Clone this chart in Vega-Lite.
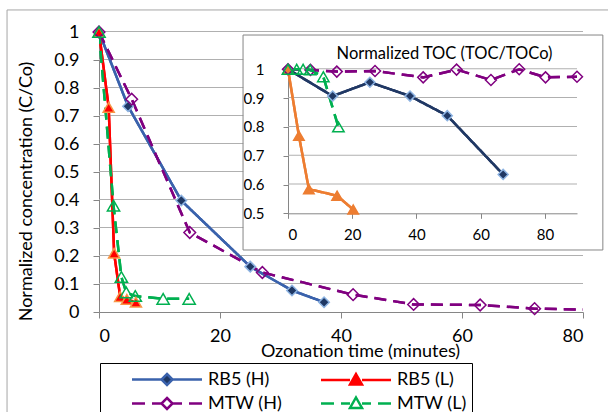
{
  "$schema": "https://vega.github.io/schema/vega-lite/v6.json",
  "autosize": {"type": "none"},
  "padding": {"left": 99, "top": 32, "right": 25, "bottom": 100},
  "width": 484,
  "height": 280,
  "background": "white",
  "config": {
    "view": {"stroke": null},
    "font": "Lato",
    "axis": {
      "labelFont": "Lato", "titleFont": "Lato", "labelColor": "black", "titleColor": "black",
      "titleFontWeight": "normal", "domainColor": "#868686", "tickColor": "#868686",
      "domainWidth": 1, "tickWidth": 1
    },
    "rect": {"fill": "#B0B0B0", "strokeWidth": 0}
  },
  "datasets": {
    "conc": [
      {"series": "RB5 (H)", "t": 0, "v": 1},
      {"series": "RB5 (H)", "t": 4.8, "v": 0.735},
      {"series": "RB5 (H)", "t": 13.6, "v": 0.398},
      {"series": "RB5 (H)", "t": 25, "v": 0.162},
      {"series": "RB5 (H)", "t": 31.9, "v": 0.077},
      {"series": "RB5 (H)", "t": 37.2, "v": 0.035},
      {"series": "RB5 (L)", "t": 0, "v": 1},
      {"series": "RB5 (L)", "t": 1.6, "v": 0.731},
      {"series": "RB5 (L)", "t": 2.5, "v": 0.21},
      {"series": "RB5 (L)", "t": 3.5, "v": 0.055},
      {"series": "RB5 (L)", "t": 4.6, "v": 0.045},
      {"series": "RB5 (L)", "t": 6.1, "v": 0.035},
      {"series": "MTW (H)", "t": 0, "v": 1},
      {"series": "MTW (H)", "t": 5.4, "v": 0.76},
      {"series": "MTW (H)", "t": 15, "v": 0.284},
      {"series": "MTW (H)", "t": 27, "v": 0.141},
      {"series": "MTW (H)", "t": 42, "v": 0.062},
      {"series": "MTW (H)", "t": 52, "v": 0.027},
      {"series": "MTW (H)", "t": 63, "v": 0.025},
      {"series": "MTW (H)", "t": 72, "v": 0.012},
      {"series": "MTW (H)", "t": 90, "v": 0.005},
      {"series": "MTW (L)", "t": 0, "v": 1},
      {"series": "MTW (L)", "t": 2.4, "v": 0.38},
      {"series": "MTW (L)", "t": 3.7, "v": 0.125},
      {"series": "MTW (L)", "t": 4.5, "v": 0.07},
      {"series": "MTW (L)", "t": 6, "v": 0.057},
      {"series": "MTW (L)", "t": 10.6, "v": 0.047},
      {"series": "MTW (L)", "t": 14.9, "v": 0.047}
    ],
    "toc": [
      {"series": "RB5 (H)", "t": 0, "v": 1},
      {"series": "RB5 (H)", "t": 13.9, "v": 0.907},
      {"series": "RB5 (H)", "t": 25.5, "v": 0.955},
      {"series": "RB5 (H)", "t": 38, "v": 0.907},
      {"series": "RB5 (H)", "t": 49.6, "v": 0.839},
      {"series": "RB5 (H)", "t": 67, "v": 0.635},
      {"series": "RB5 (L)", "t": 0, "v": 1},
      {"series": "RB5 (L)", "t": 3.4, "v": 0.769},
      {"series": "RB5 (L)", "t": 6.5, "v": 0.584},
      {"series": "RB5 (L)", "t": 15.3, "v": 0.561},
      {"series": "RB5 (L)", "t": 20.3, "v": 0.513},
      {"series": "MTW (H)", "t": 0, "v": 1},
      {"series": "MTW (H)", "t": 7, "v": 0.998},
      {"series": "MTW (H)", "t": 15.2, "v": 0.992},
      {"series": "MTW (H)", "t": 27.1, "v": 0.994},
      {"series": "MTW (H)", "t": 42.1, "v": 0.972},
      {"series": "MTW (H)", "t": 52.5, "v": 0.999},
      {"series": "MTW (H)", "t": 63.2, "v": 0.963},
      {"series": "MTW (H)", "t": 72, "v": 1.0},
      {"series": "MTW (H)", "t": 80.2, "v": 0.972},
      {"series": "MTW (H)", "t": 90, "v": 0.974},
      {"series": "MTW (L)", "t": 0, "v": 1},
      {"series": "MTW (L)", "t": 2.7, "v": 1},
      {"series": "MTW (L)", "t": 4.7, "v": 1},
      {"series": "MTW (L)", "t": 6.9, "v": 0.998},
      {"series": "MTW (L)", "t": 11, "v": 0.974},
      {"series": "MTW (L)", "t": 15.7, "v": 0.8}
    ]
  },
  "resolve": {"scale": {"x": "independent", "y": "independent", "color": "independent", "fill": "independent", "stroke": "independent", "shape": "independent", "strokeDash": "independent", "size": "independent"}},
  "layer": [
    {
      "data": {"name": "conc"},
      "mark": {"type": "line", "strokeWidth": 2.5, "clip": true},
      "encoding": {
        "x": {"field": "t", "type": "quantitative",
          "scale": {"domain": [0, 80], "nice": false},
          "axis": {"orient": "bottom", "values": [0, 20, 40, 60, 80], "title": "Ozonation time (minutes)", "labelFontSize": 18, "titleFontSize": 18,
            "tickSize": 6, "labelPadding": 9, "grid": false, "titleX": 261, "titleY": 39, "titleBaseline": "middle", "titleAlign": "center"}},
        "y": {"field": "v", "type": "quantitative",
          "scale": {"domain": [0, 1], "nice": false},
          "axis": {"orient": "left", "values": [0, 0.1, 0.2, 0.3, 0.4, 0.5, 0.6, 0.7, 0.8, 0.9, 1], "format": "~g", "labelFontSize": 18,
            "labelOverlap": false, "tickSize": 6, "labelPadding": 14, "grid": false,
            "title": "Normalized concentration (C/Co)", "titleFontSize": 18, "titleX": -73, "titleY": 159,
            "titleAngle": 270, "titleAlign": "center", "titleBaseline": "middle"}},
        "color": {"field": "series", "type": "nominal",
          "scale": {"domain": ["RB5 (H)", "RB5 (L)", "MTW (H)", "MTW (L)"], "range": ["#3A62AC", "#FF0000", "#800080", "#00B050"]}, "legend": null},
        "strokeDash": {"field": "series", "type": "nominal",
          "scale": {"domain": ["RB5 (H)", "RB5 (L)", "MTW (H)", "MTW (L)"], "range": [[1, 0], [1, 0], [12, 7], [12, 7]]}, "legend": null}
      }
    },
    {
      "data": {"name": "toc"},
      "mark": {"type": "line", "strokeWidth": 2.5},
      "encoding": {
        "x": {"field": "t", "type": "quantitative",
          "scale": {"domain": [0, 90], "range": [189, 478], "nice": false},
          "axis": {"orient": "bottom", "offset": -98.7, "values": [0, 20, 40, 60, 80], "grid": false, "title": null,
            "labelFontSize": 15, "tickSize": 5, "labelPadding": 9, "labelOverlap": false}},
        "y": {"field": "v", "type": "quantitative",
          "scale": {"domain": [0.5, 1], "range": [181.3, 37.3], "nice": false, "zero": false},
          "axis": {"orient": "left", "offset": -189, "values": [0.5, 0.6, 0.7, 0.8, 0.9, 1], "format": "~g", "grid": false,
            "labelFontSize": 15, "tickSize": 5, "labelPadding": 19, "labelOverlap": false,
            "title": "Normalized TOC (TOC/TOCo)", "titleFontSize": 16.5, "titleAngle": 0, "titleX": 156, "titleY": 21,
            "titleAlign": "center", "titleBaseline": "middle"}},
        "color": {"field": "series", "type": "nominal",
          "scale": {"domain": ["RB5 (H)", "RB5 (L)", "MTW (H)", "MTW (L)"], "range": ["#203864", "#ED7D31", "#800080", "#00B050"]}, "legend": null},
        "strokeDash": {"field": "series", "type": "nominal",
          "scale": {"domain": ["RB5 (H)", "RB5 (L)", "MTW (H)", "MTW (L)"], "range": [[1, 0], [1, 0], [12, 7], [12, 7]]}, "legend": null}
      }
    },
    {"data": {"values": [{}]}, "mark": "rect", "encoding": {
      "x": {"datum": 0, "type": "quantitative", "scale": {"domain": [0, 80], "nice": false}, "axis": null}, "x2": {"datum": 80},
      "y": {"datum": 1, "type": "quantitative", "scale": {"domain": [0, 1], "nice": false}, "axis": null}, "y2": {"datum": 1.0036}}},
    {"data": {"values": [{}]}, "mark": "rect", "encoding": {
      "x": {"datum": 0, "type": "quantitative", "scale": {"domain": [0, 80], "nice": false}, "axis": null}, "x2": {"datum": 80},
      "y": {"datum": 0.2, "type": "quantitative", "scale": {"domain": [0, 1], "nice": false}, "axis": null}, "y2": {"datum": 0.2036}}},
    {"data": {"values": [{}]}, "mark": "rect", "encoding": {
      "x": {"datum": 0, "type": "quantitative", "scale": {"domain": [0, 80], "nice": false}, "axis": null}, "x2": {"datum": 80},
      "y": {"datum": 0.1, "type": "quantitative", "scale": {"domain": [0, 1], "nice": false}, "axis": null}, "y2": {"datum": 0.1036}}},
    {"data": {"values": [{}]}, "mark": "rect", "encoding": {
      "x": {"datum": 0, "type": "quantitative", "scale": {"domain": [0, 80], "nice": false}, "axis": null}, "x2": {"datum": 23.85},
      "y": {"datum": 0.3, "type": "quantitative", "scale": {"domain": [0, 1], "nice": false}, "axis": null}, "y2": {"datum": 0.3036}}},
    {"data": {"values": [{}]}, "mark": "rect", "encoding": {
      "x": {"datum": 0, "type": "quantitative", "scale": {"domain": [0, 80], "nice": false}, "axis": null}, "x2": {"datum": 23.85},
      "y": {"datum": 0.4, "type": "quantitative", "scale": {"domain": [0, 1], "nice": false}, "axis": null}, "y2": {"datum": 0.4036}}},
    {"data": {"values": [{}]}, "mark": "rect", "encoding": {
      "x": {"datum": 0, "type": "quantitative", "scale": {"domain": [0, 80], "nice": false}, "axis": null}, "x2": {"datum": 23.85},
      "y": {"datum": 0.5, "type": "quantitative", "scale": {"domain": [0, 1], "nice": false}, "axis": null}, "y2": {"datum": 0.5036}}},
    {"data": {"values": [{}]}, "mark": "rect", "encoding": {
      "x": {"datum": 0, "type": "quantitative", "scale": {"domain": [0, 80], "nice": false}, "axis": null}, "x2": {"datum": 23.85},
      "y": {"datum": 0.6, "type": "quantitative", "scale": {"domain": [0, 1], "nice": false}, "axis": null}, "y2": {"datum": 0.6036}}},
    {"data": {"values": [{}]}, "mark": "rect", "encoding": {
      "x": {"datum": 0, "type": "quantitative", "scale": {"domain": [0, 80], "nice": false}, "axis": null}, "x2": {"datum": 23.85},
      "y": {"datum": 0.7, "type": "quantitative", "scale": {"domain": [0, 1], "nice": false}, "axis": null}, "y2": {"datum": 0.7036}}},
    {"data": {"values": [{}]}, "mark": "rect", "encoding": {
      "x": {"datum": 0, "type": "quantitative", "scale": {"domain": [0, 80], "nice": false}, "axis": null}, "x2": {"datum": 23.85},
      "y": {"datum": 0.8, "type": "quantitative", "scale": {"domain": [0, 1], "nice": false}, "axis": null}, "y2": {"datum": 0.8036}}},
    {"data": {"values": [{}]}, "mark": "rect", "encoding": {
      "x": {"datum": 0, "type": "quantitative", "scale": {"domain": [0, 80], "nice": false}, "axis": null}, "x2": {"datum": 23.85},
      "y": {"datum": 0.9, "type": "quantitative", "scale": {"domain": [0, 1], "nice": false}, "axis": null}, "y2": {"datum": 0.9036}}},
    {"data": {"values": [{}]}, "mark": "rect", "encoding": {
      "x": {"datum": 0, "type": "quantitative", "scale": {"domain": [0, 90], "range": [189, 478], "nice": false}, "axis": null}, "x2": {"datum": 90},
      "y": {"datum": 0.6, "type": "quantitative", "scale": {"domain": [0.5, 1], "range": [181.3, 37.3], "nice": false, "zero": false}, "axis": null}, "y2": {"datum": 0.6035}}},
    {"data": {"values": [{}]}, "mark": "rect", "encoding": {
      "x": {"datum": 0, "type": "quantitative", "scale": {"domain": [0, 90], "range": [189, 478], "nice": false}, "axis": null}, "x2": {"datum": 90},
      "y": {"datum": 0.7, "type": "quantitative", "scale": {"domain": [0.5, 1], "range": [181.3, 37.3], "nice": false, "zero": false}, "axis": null}, "y2": {"datum": 0.7035}}},
    {"data": {"values": [{}]}, "mark": "rect", "encoding": {
      "x": {"datum": 0, "type": "quantitative", "scale": {"domain": [0, 90], "range": [189, 478], "nice": false}, "axis": null}, "x2": {"datum": 90},
      "y": {"datum": 0.8, "type": "quantitative", "scale": {"domain": [0.5, 1], "range": [181.3, 37.3], "nice": false, "zero": false}, "axis": null}, "y2": {"datum": 0.8035}}},
    {"data": {"values": [{}]}, "mark": "rect", "encoding": {
      "x": {"datum": 0, "type": "quantitative", "scale": {"domain": [0, 90], "range": [189, 478], "nice": false}, "axis": null}, "x2": {"datum": 90},
      "y": {"datum": 0.9, "type": "quantitative", "scale": {"domain": [0.5, 1], "range": [181.3, 37.3], "nice": false, "zero": false}, "axis": null}, "y2": {"datum": 0.9035}}},
    {"data": {"values": [{}]}, "mark": "rect", "encoding": {
      "x": {"datum": 0, "type": "quantitative", "scale": {"domain": [0, 90], "range": [189, 478], "nice": false}, "axis": null}, "x2": {"datum": 90},
      "y": {"datum": 1, "type": "quantitative", "scale": {"domain": [0.5, 1], "range": [181.3, 37.3], "nice": false, "zero": false}, "axis": null}, "y2": {"datum": 1.0035}}},
    {
      "data": {"name": "conc"},
      "mark": {"type": "line", "strokeWidth": 2.5, "clip": true},
      "encoding": {
        "x": {"field": "t", "type": "quantitative", "scale": {"domain": [0, 80], "nice": false}, "axis": null},
        "y": {"field": "v", "type": "quantitative", "scale": {"domain": [0, 1], "nice": false}, "axis": null},
        "color": {"field": "series", "type": "nominal",
          "scale": {"domain": ["RB5 (H)", "RB5 (L)", "MTW (H)", "MTW (L)"], "range": ["#3A62AC", "#FF0000", "#800080", "#00B050"]}, "legend": null},
        "strokeDash": {"field": "series", "type": "nominal",
          "scale": {"domain": ["RB5 (H)", "RB5 (L)", "MTW (H)", "MTW (L)"], "range": [[1, 0], [1, 0], [12, 7], [12, 7]]}, "legend": null}
      }
    },
    {
      "data": {"name": "toc"},
      "mark": {"type": "line", "strokeWidth": 2.5},
      "encoding": {
        "x": {"field": "t", "type": "quantitative", "scale": {"domain": [0, 90], "range": [189, 478], "nice": false}, "axis": null},
        "y": {"field": "v", "type": "quantitative", "scale": {"domain": [0.5, 1], "range": [181.3, 37.3], "nice": false, "zero": false}, "axis": null},
        "color": {"field": "series", "type": "nominal",
          "scale": {"domain": ["RB5 (H)", "RB5 (L)", "MTW (H)", "MTW (L)"], "range": ["#203864", "#ED7D31", "#800080", "#00B050"]}, "legend": null},
        "strokeDash": {"field": "series", "type": "nominal",
          "scale": {"domain": ["RB5 (H)", "RB5 (L)", "MTW (H)", "MTW (L)"], "range": [[1, 0], [1, 0], [12, 7], [12, 7]]}, "legend": null}
      }
    },
    {
      "data": {"name": "conc"},
      "transform": [{"filter": "datum.t <= 80"}],
      "mark": {"type": "point", "filled": true, "opacity": 1, "strokeWidth": 1.5},
      "encoding": {
        "x": {"field": "t", "type": "quantitative", "scale": {"domain": [0, 80], "nice": false}, "axis": null},
        "y": {"field": "v", "type": "quantitative", "scale": {"domain": [0, 1], "nice": false}, "axis": null},
        "shape": {"field": "series", "type": "nominal",
          "scale": {"domain": ["RB5 (H)", "RB5 (L)", "MTW (H)", "MTW (L)"], "range": ["diamond", "triangle-up", "diamond", "triangle-up"]}, "legend": null},
        "fill": {"field": "series", "type": "nominal",
          "scale": {"domain": ["RB5 (H)", "RB5 (L)", "MTW (H)", "MTW (L)"], "range": ["#1F3864", "#FF0000", "transparent", "transparent"]}, "legend": null},
        "stroke": {"field": "series", "type": "nominal",
          "scale": {"domain": ["RB5 (H)", "RB5 (L)", "MTW (H)", "MTW (L)"], "range": ["#8DB3E2", "#F79646", "#800080", "#00B050"]}, "legend": null},
        "size": {"field": "series", "type": "ordinal",
          "scale": {"domain": ["RB5 (H)", "RB5 (L)", "MTW (H)", "MTW (L)"], "range": [110, 150, 150, 190]}, "legend": null}
      }
    },
    {
      "data": {"name": "toc"},
      "mark": {"type": "point", "filled": true, "opacity": 1, "strokeWidth": 1.5},
      "encoding": {
        "x": {"field": "t", "type": "quantitative", "scale": {"domain": [0, 90], "range": [189, 478], "nice": false}, "axis": null},
        "y": {"field": "v", "type": "quantitative", "scale": {"domain": [0.5, 1], "range": [181.3, 37.3], "nice": false, "zero": false}, "axis": null},
        "shape": {"field": "series", "type": "nominal",
          "scale": {"domain": ["RB5 (H)", "RB5 (L)", "MTW (H)", "MTW (L)"], "range": ["diamond", "triangle-up", "diamond", "triangle-up"]}, "legend": null},
        "fill": {"field": "series", "type": "nominal",
          "scale": {"domain": ["RB5 (H)", "RB5 (L)", "MTW (H)", "MTW (L)"], "range": ["#203864", "#ED7D31", "transparent", "transparent"]}, "legend": null},
        "stroke": {"field": "series", "type": "nominal",
          "scale": {"domain": ["RB5 (H)", "RB5 (L)", "MTW (H)", "MTW (L)"], "range": ["#8DB3E2", "#ED7D31", "#800080", "#00B050"]}, "legend": null},
        "size": {"field": "series", "type": "ordinal",
          "scale": {"domain": ["RB5 (H)", "RB5 (L)", "MTW (H)", "MTW (L)"], "range": [100, 130, 121, 160]}, "legend": null}
      }
    },
    {
      "data": {"values": [{}]},
      "mark": {"type": "rect", "fill": "transparent", "stroke": "#A6A6A6", "strokeWidth": 1},
      "encoding": {
        "x": {"datum": -15.2, "type": "quantitative", "scale": {"domain": [0, 80], "nice": false}, "axis": null},
        "x2": {"datum": 90},
        "y": {"datum": 1.0787, "type": "quantitative", "scale": {"domain": [0, 1], "nice": false}, "axis": null},
        "y2": {"datum": -0.5}
      }
    },
    {
      "data": {"values": [{}]},
      "mark": {"type": "rect", "fill": "transparent", "stroke": "#868686", "strokeWidth": 1},
      "encoding": {
        "x": {"datum": -14.0, "type": "quantitative", "scale": {"domain": [0, 90], "range": [189, 478], "nice": false}, "axis": null},
        "x2": {"datum": 98.05},
        "y": {"datum": 0.3726, "type": "quantitative", "scale": {"domain": [0.5, 1], "range": [181.3, 37.3], "nice": false, "zero": false}, "axis": null},
        "y2": {"datum": 1.119}
      }
    },
    {
      "data": {"name": "conc"},
      "transform": [{"filter": "false"}],
      "mark": {"type": "point", "filled": true, "opacity": 1, "strokeWidth": 2.5},
      "encoding": {
        "shape": {"field": "series", "type": "nominal",
          "scale": {"domain": ["RB5 (H)", "RB5 (L)", "MTW (H)", "MTW (L)"],
            "range": [
              "M-3.5,0H-0.55M0.55,0H3.5M0,-0.55L0.55,0L0,0.55L-0.55,0Z",
              "M-3.5,0H-0.6M0.6,0H3.5M0,-0.6L0.6,0.45L-0.6,0.45Z",
              "M-3.5,0H-2.2M-1.5,0H-0.55M0.55,0H1.5M2.2,0H3.5M0,-0.55L0.55,0L0,0.55L-0.55,0Z",
              "M-3.5,0H-2.2M-1.5,0H-0.6M0.6,0H1.5M2.2,0H3.5M0,-0.6L0.6,0.45L-0.6,0.45Z"
            ]},
          "legend": {"orient": "none", "legendX": 1, "legendY": 331, "columns": 2, "direction": "horizontal", "title": null, "padding": 5,
            "strokeColor": "black", "fillColor": "white", "symbolSize": 400, "symbolStrokeWidth": 2.5, "symbolOffset": 50.5,
            "labelFontSize": 18, "labelFont": "Lato", "labelColor": "black", "labelOffset": 29.5, "columnPadding": 12, "rowPadding": 2,
            "labelExpr": "datum.label + '\u00a0\u00a0\u00a0\u00a0\u00a0\u00a0\u00a0\u00a0'"}},
        "fill": {"field": "series", "type": "nominal",
          "scale": {"domain": ["RB5 (H)", "RB5 (L)", "MTW (H)", "MTW (L)"], "range": ["#1F3864", "#FF0000", "transparent", "transparent"]},
          "legend": {"orient": "none", "legendX": 1, "legendY": 331, "columns": 2, "direction": "horizontal", "title": null, "padding": 5,
            "strokeColor": "black", "fillColor": "white", "symbolSize": 400, "symbolStrokeWidth": 2.5, "symbolOffset": 50.5,
            "labelFontSize": 18, "labelFont": "Lato", "labelColor": "black", "labelOffset": 29.5, "columnPadding": 12, "rowPadding": 2,
            "labelExpr": "datum.label + '\u00a0\u00a0\u00a0\u00a0\u00a0\u00a0\u00a0\u00a0'"}},
        "stroke": {"field": "series", "type": "nominal",
          "scale": {"domain": ["RB5 (H)", "RB5 (L)", "MTW (H)", "MTW (L)"], "range": ["#3A62AC", "#FF0000", "#800080", "#00B050"]},
          "legend": {"orient": "none", "legendX": 1, "legendY": 331, "columns": 2, "direction": "horizontal", "title": null, "padding": 5,
            "strokeColor": "black", "fillColor": "white", "symbolSize": 400, "symbolStrokeWidth": 2.5, "symbolOffset": 50.5,
            "labelFontSize": 18, "labelFont": "Lato", "labelColor": "black", "labelOffset": 29.5, "columnPadding": 12, "rowPadding": 2,
            "labelExpr": "datum.label + '\u00a0\u00a0\u00a0\u00a0\u00a0\u00a0\u00a0\u00a0'"}}
      }
    }
  ]
}
